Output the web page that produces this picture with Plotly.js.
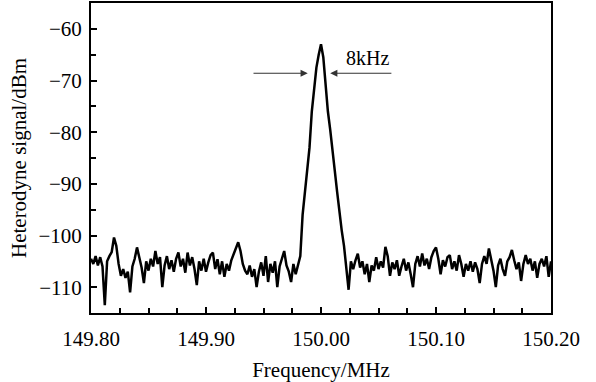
<!DOCTYPE html>
<html>
<head>
<meta charset="utf-8">
<script src="https://cdn.plot.ly/plotly-3.0.1.min.js"></script>
<style>
  html, body { margin: 0; padding: 0; background: #fff; }
  #chart { width: 596px; height: 382px; }
</style>
</head>
<body>
<div id="chart"></div>
<script>
// Frequency grid: start and step (MHz)
const freqStart = 149.800;
const freqStep = 0.002;

// Heterodyne signal (dBm), one value per frequency step
const signalDbm = [
  -104.5, -105.5, -104.0, -105.8, -104.2, -106.0, -113.5, -105.0, -104.0, -103.2,
  -100.4, -102.0, -105.5, -107.8, -106.5, -108.2, -107.0, -111.0, -106.0, -104.5,
  -102.3, -104.0, -106.2, -109.2, -105.0, -106.8, -104.5, -106.0, -103.0, -105.5,
  -104.2, -110.0, -105.8, -104.0, -106.5, -104.8, -107.0, -104.5, -103.3, -106.0,
  -104.5, -107.2, -103.3, -105.8, -104.2, -106.5, -109.6, -105.0, -106.8, -104.5,
  -107.0, -105.2, -103.8, -103.3, -106.5, -104.6, -107.5, -105.0, -108.0, -105.5,
  -106.8, -104.8, -103.5, -102.2, -101.3, -103.0, -105.5, -106.8, -107.5, -105.8,
  -108.0, -106.5, -110.0, -107.0, -105.2, -107.8, -104.0, -109.0, -105.5, -107.2,
  -105.0, -110.0, -106.0, -104.5, -103.0, -105.8, -107.0, -109.0, -105.5, -107.5,
  -106.0, -104.0, -96.0, -92.0, -88.0, -83.0, -76.0, -71.0, -67.5, -65.0,
  -63.0, -65.5, -71.0, -76.0, -79.5, -83.0, -87.5, -91.5, -95.5, -99.0,
  -102.0, -106.0, -110.5, -105.0, -106.5, -104.8, -103.5, -106.2, -105.0, -107.5,
  -105.5, -109.0, -105.8, -106.8, -104.2, -106.5, -105.0, -106.2, -102.2, -104.0,
  -107.8, -105.2, -106.5, -104.8, -107.8, -106.0, -104.5, -106.8, -105.2, -107.5,
  -110.0, -105.5, -104.0, -106.0, -103.5, -105.8, -104.5, -106.5, -104.2, -103.0,
  -102.3, -104.5, -107.5, -104.8, -106.0, -104.2, -103.8, -106.5, -105.0, -106.8,
  -103.8, -105.5, -108.0, -105.5, -106.8, -105.0, -107.0, -105.2, -106.5, -109.2,
  -105.5, -104.0, -105.5, -102.5, -104.5, -106.8, -110.0, -105.8, -104.5, -106.5,
  -107.8, -105.0, -104.2, -102.8, -104.8, -106.5, -105.2, -108.8, -105.5, -103.8,
  -105.5, -104.5, -106.8, -105.0, -108.2, -105.5, -104.5, -106.0, -104.0, -108.0,
  -105.0
];

// Tick labels
const xTickVals = [149.8, 149.9, 150.0, 150.1, 150.2];
const xTickText = ["149.80", "149.90", "150.00", "150.10", "150.20"];
const yTickVals = [-110, -100, -90, -80, -70, -60];

// Linewidth annotation
const widthLabel = "8kHz";
const arrowLevel = -68.6;
const leftArrowFrom = 149.940, leftArrowTo = 149.9885;
const rightArrowFrom = 150.0625, rightArrowTo = 150.0080;
const labelX = 150.040, labelY = -65.6;

const serif = "Liberation Serif, Times New Roman, serif";

const trace = {
  type: "scatter",
  mode: "lines",
  x0: freqStart,
  dx: freqStep,
  y: signalDbm,
  line: { color: "#000", width: 2.5 },
  hoverinfo: "skip"
};

const layout = {
  width: 596,
  height: 382,
  margin: { l: 91, r: 45, t: 3, b: 69 },
  paper_bgcolor: "#fff",
  plot_bgcolor: "#fff",
  showlegend: false,
  font: { family: serif, color: "#000", size: 20 },
  xaxis: {
    range: [149.8, 150.2],
    tickmode: "array",
    tickvals: xTickVals,
    ticktext: xTickText,
    ticks: "inside",
    ticklen: 6,
    tickwidth: 2,
    tickcolor: "#000",
    ticklabelstandoff: 6,
    minor: { dtick: 0.025, tick0: 149.8, ticks: "inside", ticklen: 5, tickwidth: 2, tickcolor: "#000" },
    showline: true,
    linewidth: 2,
    linecolor: "#000",
    mirror: true,
    showgrid: false,
    zeroline: false,
    tickfont: { family: serif, size: 21, color: "#000" },
    title: { text: "Frequency/MHz", font: { family: serif, size: 21, color: "#000" }, standoff: 16 }
  },
  yaxis: {
    range: [-115, -55],
    tickmode: "array",
    tickvals: yTickVals,
    ticks: "inside",
    ticklen: 6,
    tickwidth: 2,
    tickcolor: "#000",
    ticklabelstandoff: 3,
    minor: { dtick: 5, tick0: -60, ticks: "inside", ticklen: 5, tickwidth: 2, tickcolor: "#000" },
    showline: true,
    linewidth: 2,
    linecolor: "#000",
    mirror: true,
    showgrid: false,
    zeroline: false,
    tickfont: { family: serif, size: 21, color: "#000" },
    title: { text: "Heterodyne signal/dBm", font: { family: serif, size: 21, color: "#000" }, standoff: 6 }
  },
  annotations: [
    {
      x: leftArrowTo, y: arrowLevel, ax: leftArrowFrom, ay: arrowLevel,
      xref: "x", yref: "y", axref: "x", ayref: "y",
      text: "", showarrow: true, arrowhead: 2, arrowsize: 1.2, arrowwidth: 1.2, arrowcolor: "#333"
    },
    {
      x: rightArrowTo, y: arrowLevel, ax: rightArrowFrom, ay: arrowLevel,
      xref: "x", yref: "y", axref: "x", ayref: "y",
      text: "", showarrow: true, arrowhead: 2, arrowsize: 1.2, arrowwidth: 1.2, arrowcolor: "#333"
    },
    {
      x: labelX, y: labelY, xref: "x", yref: "y",
      text: widthLabel, showarrow: false,
      font: { family: serif, size: 20, color: "#000" }
    }
  ]
};

Plotly.newPlot("chart", [trace], layout, { staticPlot: true, displayModeBar: false });
</script>
</body>
</html>
